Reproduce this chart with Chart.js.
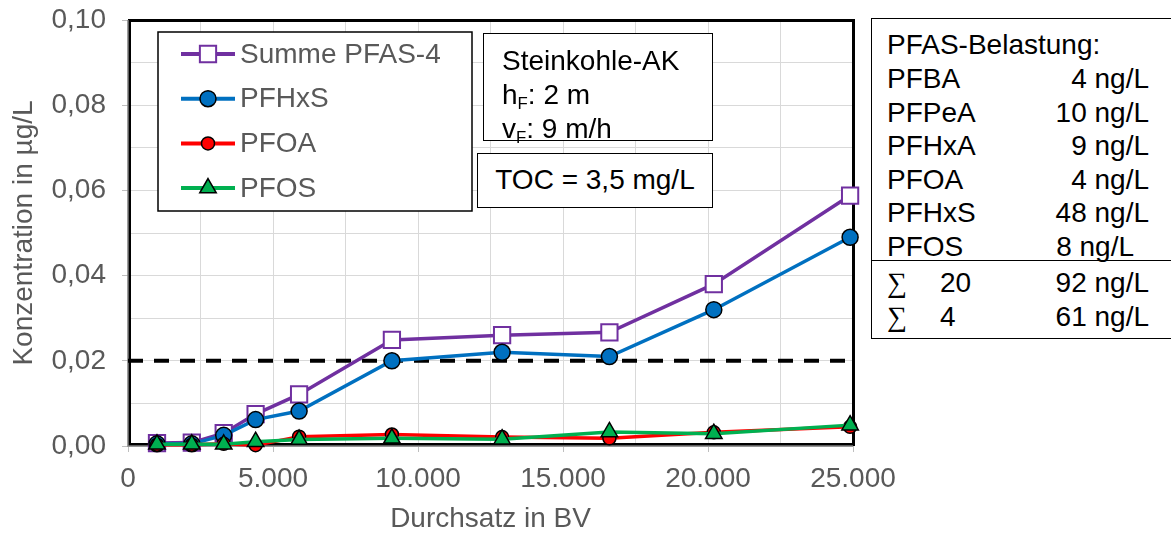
<!DOCTYPE html>
<html>
<head>
<meta charset="utf-8">
<script src="https://cdn.jsdelivr.net/npm/chart.js@4.4.1/dist/chart.umd.min.js"></script>
<style>
  body { margin: 0; background: #fff; overflow: hidden; }
  #wrap { position: relative; width: 1171px; height: 536px; overflow: hidden;
          font-family: "Liberation Sans", Arial, sans-serif; }
  #chart { position: absolute; left: 0; top: 0; }
  .box { position: absolute; background: #fff; border: 1.5px solid #000; box-sizing: border-box;
         color: #000; font-size: 28px; line-height: 34px; white-space: nowrap; }
  .box sub { font-size: 60%; vertical-align: -0.3em; line-height: 0; }
  .row { position: absolute; left: 15px; width: 262px; height: 34px; }
  .row .v { position: absolute; right: 0; top: 0; }
  .sig { font-family: "Liberation Serif", "DejaVu Serif", serif; }
</style>
</head>
<body>
<div id="wrap">
  <canvas id="chart" width="1171" height="536"></canvas>

  <div class="box" style="left:483px; top:33px; width:230px; height:108px; padding:10px 0 0 18px;">
    Steinkohle-AK<br>h<sub>F</sub>: 2 m<br>v<sub>F</sub>: 9 m/h
  </div>
  <div class="box" style="left:477px; top:153px; width:236px; height:55px; text-align:center; line-height:52px;">
    TOC = 3,5 mg/L
  </div>

  <div class="box" id="panel" style="left:871px; top:18px; width:320px; height:321px;"></div>
</div>

<script>
// Durchsatz (BV) der Probenahmen
const durchsatz = [1000, 2200, 3300, 4400, 5900, 9100, 12900, 16600, 20200, 24900];

// Konzentrationen in µg/L
const summePfas4 = [0.0007, 0.0008, 0.0030, 0.0075, 0.0121, 0.0249, 0.0260, 0.0267, 0.0380, 0.0588];
const pfhxs      = [0.0005, 0.0005, 0.0025, 0.0062, 0.0082, 0.0200, 0.0220, 0.0210, 0.0320, 0.0490];
const pfoa       = [0.0003, 0.0003, 0.0005, 0.0002, 0.0022, 0.0027, 0.0021, 0.0018, 0.0032, 0.0045];
const pfos       = [0.0004, 0.0004, 0.0004, 0.0010, 0.0015, 0.0018, 0.0016, 0.0033, 0.0029, 0.0049];

// Grenzwert-Linie
const grenzwertX = [0, 25000];
const grenzwertY = [0.02, 0.02];

// Belastung im Zulauf
const belastungNamen = ['PFBA', 'PFPeA', 'PFHxA', 'PFOA', 'PFHxS', 'PFOS'];
const belastungWerte = ['4 ng/L', '10 ng/L', '9 ng/L', '4 ng/L', '48 ng/L', '8 ng/L'];
const summenNamen = ['20', '4'];
const summenWerte = ['92 ng/L', '61 ng/L'];

const FONT = '"Liberation Sans", Arial, sans-serif';
const GRAU = '#595959';
Chart.defaults.font.family = FONT;

function punkte(xs, ys) {
  return xs.map((x, i) => ({ x: x, y: ys[i] }));
}

function tausender(v) {
  return String(v).replace(/\B(?=(\d{3})+(?!\d))/g, '.');
}

function marker(ctx, style, x, y, r, fill, stroke, bw) {
  ctx.save();
  ctx.fillStyle = fill;
  ctx.strokeStyle = stroke;
  ctx.lineWidth = bw;
  ctx.beginPath();
  if (style === 'rect') {
    const s = r * Math.SQRT1_2;
    ctx.rect(x - s, y - s, 2 * s, 2 * s);
  } else if (style === 'triangle') {
    let a = 0;
    ctx.moveTo(x + Math.sin(a) * r, y - Math.cos(a) * r);
    a += 2 * Math.PI / 3;
    ctx.lineTo(x + Math.sin(a) * r, y - Math.cos(a) * r);
    a += 2 * Math.PI / 3;
    ctx.lineTo(x + Math.sin(a) * r, y - Math.cos(a) * r);
    ctx.closePath();
  } else {
    ctx.arc(x, y, r, 0, Math.PI * 2);
  }
  ctx.fill();
  ctx.stroke();
  ctx.restore();
}

// Rahmen um die Zeichenfläche
const rahmen = {
  id: 'rahmen',
  beforeDatasetsDraw(chart) {
    const a = chart.chartArea, ctx = chart.ctx;
    ctx.save();
    ctx.strokeStyle = '#000';
    ctx.lineWidth = 3;
    ctx.strokeRect(a.left + 1.5, a.top + 0.5, a.right - a.left - 1, a.bottom - a.top - 2);
    ctx.strokeStyle = '#7f7f7f';
    ctx.lineWidth = 1.5;
    ctx.beginPath();
    ctx.moveTo(a.left, a.top);
    ctx.lineTo(a.left, a.bottom);
    ctx.lineTo(a.right, a.bottom);
    ctx.stroke();
    ctx.restore();
  }
};

// Legende im Diagramm
const legende = {
  id: 'legende',
  afterDraw(chart) {
    const ctx = chart.ctx;
    const x0 = 158, y0 = 32, w = 314, h = 179;
    ctx.save();
    ctx.fillStyle = '#fff';
    ctx.fillRect(x0, y0, w, h);
    ctx.strokeStyle = '#000';
    ctx.lineWidth = 1.5;
    ctx.strokeRect(x0, y0, w, h);
    const sets = chart.data.datasets.filter(d => d.inLegend);
    sets.forEach((d, i) => {
      const y = 54 + i * 44.7;
      ctx.strokeStyle = d.borderColor;
      ctx.lineWidth = 4;
      ctx.beginPath();
      ctx.moveTo(181, y);
      ctx.lineTo(235, y);
      ctx.stroke();
      marker(ctx, d.pointStyle, 208, y, d.pointRadius, d.pointBackgroundColor,
             d.pointBorderColor, d.pointBorderWidth);
      ctx.fillStyle = GRAU;
      ctx.font = '28px ' + FONT;
      ctx.textBaseline = 'middle';
      ctx.fillText(d.label, 240, y + 1);
    });
    ctx.restore();
  }
};

const serie = (label, ys, farbe, style, r, fill, rand, rbw, order) => ({
  label: label,
  data: punkte(durchsatz, ys),
  inLegend: true,
  borderColor: farbe,
  borderWidth: 3.5,
  pointStyle: style,
  pointRadius: r,
  pointBackgroundColor: fill,
  pointBorderColor: rand,
  pointBorderWidth: rbw,
  tension: 0,
  clip: false,
  order: order
});

new Chart(document.getElementById('chart'), {
  type: 'line',
  data: {
    datasets: [
      serie('Summe PFAS-4', summePfas4, '#7030a0', 'rect', 11.5, '#fff', '#7030a0', 2, 3),
      serie('PFHxS', pfhxs, '#0070c0', 'circle', 8, '#0070c0', '#000', 1.5, 2),
      serie('PFOA', pfoa, '#ff0000', 'circle', 6.5, '#ff0000', '#000', 1.5, 1),
      serie('PFOS', pfos, '#00b050', 'triangle', 9.5, '#00b050', '#000', 1.5, 0),
      {
        label: 'Grenzwert',
        data: punkte(grenzwertX, grenzwertY),
        inLegend: false,
        borderColor: '#000',
        borderWidth: 4,
        borderDash: [15, 11],
        pointRadius: 0,
        clip: false,
        order: 4
      }
    ]
  },
  options: {
    responsive: false,
    animation: false,
    events: [],
    layout: { padding: { left: 0, top: 20, right: 318, bottom: 0 } },
    plugins: { legend: { display: false }, tooltip: { enabled: false } },
    scales: {
      x: {
        type: 'linear',
        min: 0,
        max: 25000,
        afterFit: s => { s.height = 90; s.paddingLeft = 0; s.paddingRight = 0; },
        ticks: {
          stepSize: 2500,
          autoSkip: false,
          maxRotation: 0,
          padding: 10,
          color: GRAU,
          font: { size: 28 },
          callback: v => v % 5000 === 0 ? tausender(v) : ''
        },
        grid: {
          color: '#d9d9d9',
          lineWidth: 1,
          tickLength: 6,
          tickColor: c => (c.tick && c.tick.value % 5000 === 0) ? '#bfbfbf' : 'rgba(0,0,0,0)'
        },
        border: { display: false },
        title: {
          display: true,
          text: 'Durchsatz in BV',
          color: GRAU,
          font: { size: 28 },
          padding: { top: 0, bottom: 0 }
        }
      },
      y: {
        min: 0,
        max: 0.1,
        afterFit: s => { s.width = 128; s.paddingTop = 0; s.paddingBottom = 0; },
        ticks: {
          stepSize: 0.01,
          autoSkip: false,
          padding: 16,
          color: GRAU,
          font: { size: 28 },
          callback: v => Math.round(v * 100) % 2 === 0 ? v.toFixed(2).replace('.', ',') : ''
        },
        grid: {
          color: '#d9d9d9',
          lineWidth: 1,
          tickLength: 6,
          tickColor: c => (c.tick && Math.round(c.tick.value * 100) % 2 === 0) ? '#bfbfbf' : 'rgba(0,0,0,0)'
        },
        border: { display: false },
        title: {
          display: true,
          text: 'Konzentration in µg/L',
          color: GRAU,
          font: { size: 28 },
          padding: { top: 7, bottom: 0 }
        }
      }
    }
  },
  plugins: [rahmen, legende]
});

// Tabelle rechts
const panel = document.getElementById('panel');
function zeile(top, links, wert, extra) {
  const d = document.createElement('div');
  d.className = 'row';
  d.style.top = top + 'px';
  d.innerHTML = links + '<span class="v"' + (extra || '') + '>' + wert + '</span>';
  panel.appendChild(d);
}
const kopf = document.createElement('div');
kopf.className = 'row';
kopf.style.top = '9px';
kopf.textContent = 'PFAS-Belastung:';
panel.appendChild(kopf);
belastungNamen.forEach((n, i) => {
  const extra = n === 'PFOS' ? ' style="right:15px"' : '';
  zeile(43 + i * 33.5, n, belastungWerte[i], extra);
});
const linie = document.createElement('div');
linie.style.cssText = 'position:absolute;left:0;right:0;top:241px;border-top:1.5px solid #000;';
panel.appendChild(linie);
summenNamen.forEach((n, i) => {
  zeile(247 + i * 33.5, '<span class="sig">&sum;</span><span style="position:absolute;left:53px">' + n + '</span>',
        summenWerte[i]);
});
</script>
</body>
</html>
